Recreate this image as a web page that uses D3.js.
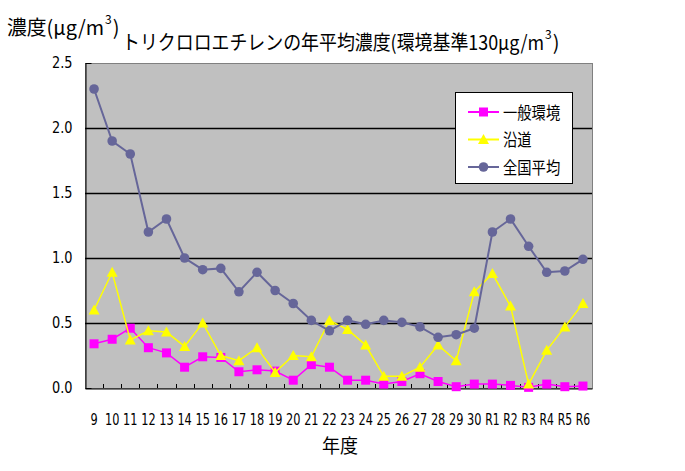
<!DOCTYPE html>
<html>
<head>
<meta charset="utf-8">
<script src="https://cdn.jsdelivr.net/npm/d3@7"></script>
<style>
  body { margin: 0; background: #fff; }
  text { font-family: "Noto Sans CJK JP", sans-serif; }
  .num { font-family: "DejaVu Sans Condensed", "DejaVu Sans", sans-serif; }
</style>
</head>
<body>
<svg id="chart" width="685" height="471"></svg>
<script>
// 年度
var years = ["9","10","11","12","13","14","15","16","17","18","19","20","21","22","23","24","25","26","27","28","29","30","R1","R2","R3","R4","R5","R6"];
// 一般環境
var ippan = [0.34,0.375,0.46,0.31,0.27,0.16,0.24,0.235,0.125,0.14,0.13,0.06,0.18,0.16,0.06,0.06,0.03,0.05,0.11,0.05,0.01,0.03,0.03,0.02,0.005,0.03,0.01,0.015];
// 沿道
var endo = [0.60,0.89,0.37,0.44,0.43,0.32,0.50,0.25,0.21,0.31,0.12,0.25,0.24,0.52,0.45,0.33,0.09,0.09,0.16,0.33,0.21,0.74,0.88,0.63,0.03,0.29,0.47,0.65];
// 全国平均
var zenkoku = [2.30,1.90,1.80,1.20,1.30,1.00,0.91,0.92,0.74,0.89,0.75,0.65,0.52,0.44,0.52,0.49,0.52,0.505,0.47,0.39,0.41,0.46,1.20,1.30,1.09,0.89,0.90,0.99];
var yTicks = [0, 0.5, 1.0, 1.5, 2.0, 2.5];

var series = [
	{name: "一般環境", values: ippan, color: "#ff00ff", marker: "square"},
	{name: "沿道", values: endo, color: "#ffff00", marker: "triangle"},
	{name: "全国平均", values: zenkoku, color: "#666699", marker: "circle"}
];

var plotLeft = 85, plotRight = 592, plotTop = 63, plotBottom = 388;

var svg = d3.select("#chart");

var x = d3.scaleBand().domain(years).range([plotLeft, plotRight]);
var y = d3.scaleLinear().domain([0, 2.5]).range([plotBottom, plotTop]);

//plot background
svg.append("rect")
	.attr("x", plotLeft + 0.5).attr("y", plotTop + 0.5)
	.attr("width", plotRight - plotLeft).attr("height", plotBottom - plotTop)
	.attr("fill", "#c0c0c0")
	.attr("stroke", "#808080");

//gridlines
svg.selectAll(".grid")
	.data(yTicks.filter(function (d) { return d > 0 && d < 2.5; }))
	.enter().append("line")
	.attr("x1", plotLeft).attr("x2", plotRight)
	.attr("y1", function (d) { return Math.round(y(d)) + 0.5; })
	.attr("y2", function (d) { return Math.round(y(d)) + 0.5; })
	.attr("stroke", "#000")
	.attr("stroke-width", 1.3);

//y axis
var yAxis = svg.append("g")
	.attr("transform", "translate(" + (plotLeft + 0.5) + ",0)")
	.call(d3.axisLeft(y).tickValues(yTicks).tickFormat(d3.format(".1f")).tickSizeInner(-6).tickSizeOuter(0).tickPadding(13));
yAxis.select(".domain").attr("stroke", "#000");
yAxis.selectAll("text").attr("class", "num").attr("font-size", 15.5).attr("fill", "#000")
	.attr("textLength", 20.5).attr("lengthAdjust", "spacingAndGlyphs");

//x axis, ticks on category boundaries
var xAxis = svg.append("g")
	.attr("transform", "translate(0," + (plotBottom + 0.5) + ")")
	.call(d3.axisBottom(x).tickSize(0).tickPadding(25));
xAxis.select(".domain").attr("stroke", "#000");
xAxis.selectAll("text").attr("class", "num").attr("font-size", 16.5).attr("fill", "#000")
	.attr("textLength", function (d) { return 7.2 * d.length; })
	.attr("lengthAdjust", "spacingAndGlyphs");

svg.selectAll(".xtick")
	.data(years.slice(1))
	.enter().append("line")
	.attr("x1", function (d) { return Math.round(x(d)) + 0.5; })
	.attr("x2", function (d) { return Math.round(x(d)) + 0.5; })
	.attr("y1", plotBottom).attr("y2", plotBottom - 4)
	.attr("stroke", "#000");

//series lines and markers
var line = d3.line()
	.x(function (d, i) { return x(years[i]) + x.bandwidth() / 2; })
	.y(function (d) { return y(d); });

function drawMarker(g, type, color) {
	if (type == "square") {
		g.append("rect").attr("x", -4.5).attr("y", -4.5).attr("width", 9).attr("height", 9).attr("fill", color);
	} else if (type == "triangle") {
		g.append("path").attr("d", "M0,-5.5L5.5,4.5L-5.5,4.5Z").attr("fill", color);
	} else {
		g.append("circle").attr("r", 4.8).attr("fill", color);
	}
}

series.forEach(function (s) {
	svg.append("path")
		.datum(s.values)
		.attr("d", line)
		.attr("fill", "none")
		.attr("stroke", s.color)
		.attr("stroke-width", s.marker == "circle" ? 2 : 1.5);

	s.values.forEach(function (v, i) {
		var g = svg.append("g")
			.attr("transform", "translate(" + (x(years[i]) + x.bandwidth() / 2) + "," + y(v) + ")");
		drawMarker(g, s.marker, s.color);
	});
});

//legend
var legend = svg.append("g").attr("transform", "translate(455,92)");
legend.append("rect")
	.attr("x", 0.5).attr("y", 0.5).attr("width", 117).attr("height", 91)
	.attr("fill", "#fff").attr("stroke", "#000");

series.forEach(function (s, i) {
	var row = legend.append("g").attr("transform", "translate(0," + (20 + i * 27.5) + ")");
	row.append("line")
		.attr("x1", 13).attr("x2", 44).attr("y1", 0).attr("y2", 0)
		.attr("stroke", s.color).attr("stroke-width", 2);
	var m = row.append("g").attr("transform", "translate(28.5,0)");
	drawMarker(m, s.marker, s.color);
	row.append("text")
		.attr("x", 48).attr("y", 6.5)
		.attr("font-size", 16.5)
		.attr("textLength", 14.3 * s.name.length).attr("lengthAdjust", "spacingAndGlyphs")
		.text(s.name);
});

//titles: main part, superscript 3, closing bracket as separate texts,
//each placed after the measured box of the one before
function titleText(x0, base, mainText, mainLen) {
	var main = svg.append("text")
		.attr("x", x0).attr("y", base)
		.attr("font-size", 20)
		.attr("textLength", mainLen).attr("lengthAdjust", "spacingAndGlyphs")
		.text(mainText);
	var b = main.node().getBBox();
	var sup = svg.append("text")
		.attr("x", b.x + b.width + 1).attr("y", base - 11)
		.attr("font-size", 12)
		.text("3");
	var b2 = sup.node().getBBox();
	svg.append("text")
		.attr("x", b2.x + b2.width + 1).attr("y", base)
		.attr("font-size", 20)
		.text(")");
}

titleText(7, 35, "濃度(μg/m", 97);
titleText(122, 50, "トリクロロエチレンの年平均濃度(環境基準130μg/m", 422);

svg.append("text")
	.attr("x", 340).attr("y", 453)
	.attr("text-anchor", "middle")
	.attr("font-size", 19)
	.attr("textLength", 36).attr("lengthAdjust", "spacingAndGlyphs")
	.text("年度");
</script>
</body>
</html>
